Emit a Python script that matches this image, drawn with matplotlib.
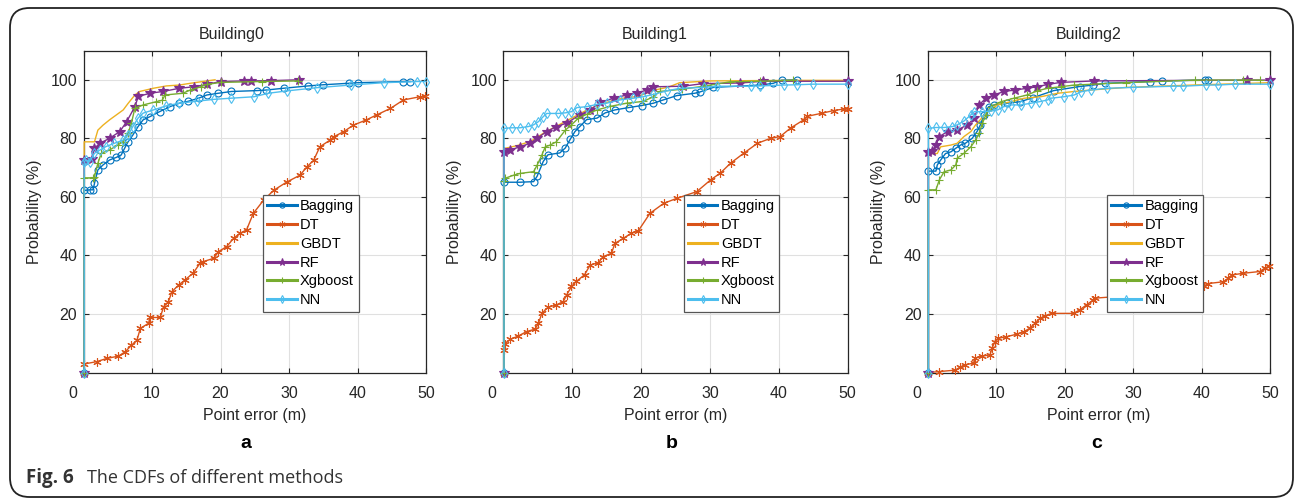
import numpy as np
import matplotlib
matplotlib.use("Agg")
import matplotlib.pyplot as plt
from matplotlib.patches import FancyBboxPatch

plt.rcParams['font.family'] = ['Liberation Sans', 'DejaVu Sans']

# ---- data: (point error m, probability %) ----
titles = ["Building0", "Building1", "Building2"]
letters = ["a", "b", "c"]
methods = ["Bagging", "DT", "GBDT", "RF", "Xgboost", "NN"]

b0_bagging = [(0.1, 0), (0.1, 62.2), (0.9, 62.4), (1.4, 62.4), (1.6, 64.6), (2.1, 69.2), (2.85, 70.9),
              (3.8, 72.6), (4.8, 73.5), (5.5, 74.3), (6, 76.6), (6.5, 78.8), (7.2, 81.1), (7.96, 84),
              (8.7, 86.3), (9.7, 87.4), (11.1, 89.1), (12.6, 90.8), (14, 92), (15.2, 92.6), (16.8, 93.7),
              (18, 94.8), (19.7, 95.4), (21.6, 96), (25.3, 96.3), (26.7, 96.5), (29.2, 97.1), (32.8, 97.9),
              (35, 98.3), (38.7, 98.8), (40.1, 99), (46.7, 99.4), (47.7, 99.4)]
b0_dt = [(0.1, 0), (0.1, 2.9), (1.9, 3.7), (3.4, 4.8), (5.1, 5.6), (6.1, 7.1), (7.0, 9.3), (7.8, 11.0),
         (8.3, 15.1), (9.5, 16.8), (9.7, 18.8), (11.2, 18.8), (11.7, 22.5), (12.4, 24.2), (12.9, 27.6),
         (13.9, 29.9), (14.8, 31.6), (16.0, 33.9), (17.0, 37.3), (17.5, 37.9), (19.0, 39.0), (19.7, 41.3),
         (20.9, 43.0), (21.9, 45.8), (22.8, 47.5), (23.8, 48.7), (24.8, 54.4), (26.3, 58.9), (27.8, 62.3),
         (29.7, 65.1), (31.6, 67.4), (32.6, 70.2), (33.6, 72.5), (34.5, 77.1), (36, 79.4), (36.5, 80.5),
         (38, 82.3), (39.4, 84.5), (41.3, 86.3), (42.8, 88), (44.8, 90.2), (46.7, 93.1), (49.1, 94.2),
         (49.9, 94.4)]
b0_gbdt = [(0.1, 0), (0.1, 78.8), (1.6, 78.8), (2.1, 82.8), (2.85, 84.5), (3.8, 86.3), (4.8, 88),
           (5.8, 89.7), (6.5, 91.9), (7.5, 94.8), (8.2, 96), (10.2, 97.1), (12.1, 97.9), (14, 98.2),
           (15.6, 98.8), (18, 99.6), (19.2, 100)]
b0_rf = [(0.1, 0), (0.1, 72.5), (1.2, 73), (1.6, 76.6), (2.4, 78.3), (3.8, 80), (5.3, 82.3), (6.3, 85.7),
         (7.5, 90.8), (8, 94.3), (9.7, 95.4), (11.6, 96), (14, 97.1), (16.1, 97.6), (18, 98.4), (20, 99.4),
         (23.4, 99.6), (24.4, 99.6), (27.3, 99.7), (31.5, 100)]
b0_xgb = [(0.1, 0), (0.1, 66.5), (1.45, 66.5), (1.6, 66.9), (2.1, 71.5), (2.6, 74.9), (3.8, 76),
          (5.0, 77.7), (5.8, 78.9), (6.5, 81.7), (7, 85.2), (7.5, 90.3), (8.7, 91.4), (10.6, 92.5),
          (11.5, 93), (11.9, 94.8), (14.5, 95.4), (15.6, 96.5), (17.1, 97.6), (18, 98.4), (20, 99.1),
          (26, 99.4), (31.3, 99.6)]
b0_nn = [(0.1, 0), (0.1, 72), (0.4, 72.6), (0.9, 72), (1.6, 74.9), (2.4, 76), (3.3, 77.2), (4.5, 78.3),
         (5.8, 79.4), (6.5, 81.1), (7.2, 84), (7.96, 86.9), (8.7, 88.6), (10.2, 89.7), (12.1, 91.1),
         (14, 92), (16.6, 92.7), (19, 93.3), (21.5, 93.7), (24.9, 94.2), (27, 95.4), (29.7, 96.2),
         (34.1, 97.3), (39, 98.2), (43.8, 99), (48.7, 99.4), (50, 99.4)]

b1_bagging = [(0.1, 0), (0.1, 65), (2.4, 65), (4.4, 65.2), (4.9, 67), (5.8, 72.1), (6.5, 74.4), (8.2, 75),
              (9, 76.7), (9.7, 79.6), (10.4, 82.3), (11.1, 84), (12.1, 86.4), (13.6, 86.9), (14.8, 88.7),
              (16.2, 89.7), (18.2, 90.5), (20.1, 91.2), (21.8, 92), (23.2, 93.1), (25.2, 94.6),
              (27.8, 95.4), (28.5, 95.8), (30.5, 97.4), (37.3, 98.2), (39.2, 98.8), (40.4, 99.9),
              (42.6, 100)]
b1_dt = [(0.1, 0), (0.1, 7.7), (0.25, 9.9), (1, 11.3), (2.2, 12.5), (3.4, 14), (4.6, 14.8), (5.1, 16.8),
         (5.6, 20.2), (6.5, 22.3), (7.7, 23.1), (8.7, 24.2), (9.2, 26.5), (9.9, 29.4), (10.6, 31.1),
         (11.8, 33.4), (12.6, 36.7), (13.8, 37.5), (14.5, 39.6), (15.7, 40.7), (16.2, 44.1),
         (17.4, 45.8), (18.6, 47.6), (19.6, 48.4), (21.3, 54.4), (23.3, 57.8), (25.2, 59.5),
         (28.1, 61.8), (30.1, 65.8), (31.5, 68.1), (33, 71.5), (34.9, 74.9), (36.9, 78.3), (38.8, 80),
         (40.2, 80.6), (41.7, 83.5), (43.6, 86.3), (44.1, 87.5), (46.3, 88.6), (48, 89.5), (49.4, 90),
         (50, 90)]
b1_gbdt = [(0.1, 0), (0.1, 76.5), (2, 77.5), (4, 79), (6, 82), (8, 84.5), (10, 87), (12, 89.5), (14, 91.5),
           (16, 93), (18, 94), (19.4, 94.2), (22, 96.5), (24, 97.5), (25.6, 99), (29.9, 99.6), (42, 99.8),
           (50, 99.8)]
b1_rf = [(0.1, 0), (0.1, 75.2), (1, 76), (2.4, 77.1), (3.9, 78.3), (4.9, 80), (6.3, 82.3), (7.7, 84),
         (9.2, 85.2), (11.1, 88), (12.6, 89.7), (14.1, 92.3), (16, 93.7), (17.9, 94.8), (19.4, 95.4),
         (20.8, 96.5), (21.8, 97.6), (26.1, 97.8), (29, 98.7), (34.4, 98.9), (37.7, 99.5), (50, 99.5)]
b1_xgb = [(0.1, 0), (0.1, 65.5), (0.2, 66.3), (1.5, 67.4), (2.4, 68), (4.4, 68.6), (4.9, 70.8),
          (5.6, 74.3), (6.1, 77.1), (6.8, 77.7), (7.7, 78.8), (9, 82.8), (9.9, 84.6), (10.9, 86.9),
          (12.1, 88.2), (13.6, 89.7), (15.5, 90.9), (17.9, 92), (20.3, 92.6), (21.8, 94.2), (22.7, 96),
          (26, 96.8), (29.1, 97.8), (32.9, 99.3), (37.3, 99.5), (42.1, 99.8)]
b1_nn = [(0.1, 0), (0.1, 83.4), (1.2, 83.6), (2.4, 83.6), (3.6, 84), (4.4, 84.6), (5.1, 85.7), (5.8, 87.4),
         (6.3, 88.5), (8, 88.5), (9, 88.7), (9.9, 89.1), (10.7, 90.5), (12.1, 90.8), (13.6, 91.6),
         (15, 92), (16.9, 93.1), (18.9, 93.7), (20.3, 94.2), (21.8, 95), (23.7, 96.2), (25.7, 97.1),
         (29.1, 97.4), (31, 97.8), (35.9, 97.8), (37.3, 97.9), (40.7, 98.2), (42.6, 98.3), (45, 98.5),
         (50, 98.5)]

b2_bagging = [(0.1, 0), (0.1, 68.8), (1.2, 68.8), (1.4, 70.9), (1.9, 72.6), (2.6, 74.8), (3.4, 75.4),
              (4.1, 76.6), (4.8, 77.7), (5.5, 78.3), (6.5, 80), (7.2, 82.3), (7.7, 84.6), (8.2, 88),
              (8.9, 90.8), (9.7, 91.4), (11.6, 92), (13.5, 92.5), (15.4, 93.9), (18.4, 96.3),
              (22.2, 97.7), (24.2, 98.2), (25.9, 98.8), (32.5, 99.4), (34.2, 99.6), (40.5, 99.9),
              (41, 99.9)]
b2_dt = [(0.1, 0), (1.6, 0.3), (4, 0.8), (4.7, 1.8), (5.4, 2.6), (6.7, 3.2), (6.9, 4.9), (7.9, 5.6),
         (9.1, 6), (9.4, 8.3), (9.8, 10.5), (10.3, 11.7), (11.5, 12.2), (13, 13.1), (14, 13.9),
         (14.9, 15.1), (15.7, 16.8), (16.4, 18.5), (17.1, 19.3), (18.1, 20.2), (21.3, 20.2), (22.2, 21.4),
         (23.2, 23.1), (24.2, 24.8), (24.4, 25.4), (28, 26), (34, 27.5), (39, 29), (40.3, 29.5),
         (41, 30.4), (43.2, 31), (43.9, 32.2), (44.4, 33.3), (46.1, 33.9), (48.5, 34.5), (49.2, 35.6),
         (49.9, 36.4)]
b2_gbdt = [(0.1, 0), (0.1, 74.8), (1.4, 74.8), (1.9, 77.1), (3.4, 77.7), (4.3, 78.3), (5.3, 80.6),
           (6.3, 82.3), (7, 84.6), (7.7, 86.4), (8.7, 89.1), (10.2, 91.4), (12.1, 92.5), (14.1, 93.7),
           (16.5, 94.2), (19, 95.4), (21.4, 96), (23.8, 96.5), (29.1, 97.4), (38.8, 98.2), (48.5, 98.9),
           (50, 99)]
b2_rf = [(0.1, 0), (0.1, 75.4), (0.7, 75.6), (1.2, 77.7), (1.7, 80.6), (2.9, 82.3), (4.3, 82.8),
         (5.8, 84.6), (6.8, 86.9), (7.5, 91.4), (8.5, 93.7), (9.7, 94.8), (11.1, 96), (12.8, 96.5),
         (14.5, 97.1), (16, 97.6), (17.5, 98.4), (19.4, 99.1), (24.3, 99.6), (46.6, 99.9), (50, 99.9)]
b2_xgb = [(0.1, 0), (0.1, 62.4), (1.2, 62.4), (1.7, 65.8), (2.4, 68.6), (3.4, 69.2), (4.1, 70.9),
          (4.3, 73.2), (5.3, 74.9), (6.3, 77.1), (7, 79.4), (7.5, 81.7), (8, 85.2), (8.5, 88), (9.2, 90.8),
          (10.7, 92.5), (12.6, 93.7), (14.5, 94.8), (16, 96.2), (17.5, 97.1), (19.4, 97.6), (21.4, 98.2),
          (29, 99), (39, 99.9), (46.1, 99.9), (48.5, 99.9)]
b2_nn = [(0.1, 0), (0.1, 83.4), (1.2, 83.7), (2.4, 83.7), (3.6, 84), (4.3, 84.6), (5.3, 85.9), (6.3, 88),
         (6.8, 89.1), (8, 89.1), (9.2, 89.3), (10.2, 89.7), (11.1, 90.8), (12.1, 91.4), (13.6, 91.4),
         (15.1, 92), (16.3, 92.5), (17.5, 93.1), (18, 93.7), (19.9, 94.2), (21.4, 94.8), (22.4, 95.9),
         (23.8, 96.5), (26.2, 97.1), (30, 97.4), (35.9, 97.8), (37.3, 97.8), (40.7, 98.2), (42.4, 98.2),
         (44.9, 98.5), (50, 98.5)]

panels = [
    [b0_bagging, b0_dt, b0_gbdt, b0_rf, b0_xgb, b0_nn],
    [b1_bagging, b1_dt, b1_gbdt, b1_rf, b1_xgb, b1_nn],
    [b2_bagging, b2_dt, b2_gbdt, b2_rf, b2_xgb, b2_nn],
]

# MATLAB default colours; MATLAB-like markers (asterisk, pentagram ...)
colors = ['#0072BD', '#D95319', '#EDB120', '#7E2F8E', '#77AC30', '#4DBEEE']
markers = ['o', (6, 2, 0), 'None', '*', '+', 'd']
msizes = [5, 6, 0, 7.5, 6, 5]
mfaces = ['none', None, None, None, None, 'none']

fig = plt.figure(figsize=(12.95, 5.0), dpi=100)

lefts = [83.5, 503.3, 927.7]
rights = [426, 847.7, 1270]
title_x = [0.434, 0.44, 0.47]
letter_x = [245.7, 672, 1097]
W, H = 1295.0, 500.0

for k in range(3):
    ax = fig.add_axes([lefts[k] / W, 1 - 372.5 / H, (rights[k] - lefts[k]) / W, 322 / H])
    for m in range(6):
        pts = np.array(panels[k][m])
        kw = dict(color=colors[m], lw=1.0, marker=markers[m], markersize=msizes[m],
                  markeredgewidth=0.8, label=methods[m], zorder=3, clip_on=False)
        if mfaces[m] is not None:
            kw['markerfacecolor'] = mfaces[m]
        ax.plot(pts[:, 0], pts[:, 1], **kw)

    ax.set_xlim(0, 50)
    ax.set_ylim(0, 110)
    ax.set_xticks([0, 10, 20, 30, 40, 50])
    ax.set_xticklabels(['', '10', '20', '30', '40', '50'])
    ax.set_yticks([20, 40, 60, 80, 100])
    ax.grid(True, color='#e0e0e0', lw=0.8)
    ax.set_axisbelow(True)
    ax.tick_params(direction='in', top=True, right=True, length=3.5, width=0.8,
                   color='#262626', labelsize=11.5, labelcolor='#262626')
    ax.tick_params(axis='x', pad=10)
    ax.tick_params(axis='y', pad=4.5)
    for s in ax.spines.values():
        s.set_linewidth(0.9)
        s.set_color('#262626')
    ax.annotate('0', xy=(0, 0), xycoords=ax.get_xaxis_transform(), xytext=(-8, -10),
                textcoords='offset points', ha='center', va='top', fontsize=11.5, color='#262626')

    ax.set_title(titles[k], fontsize=11.5, pad=8, color='#262626', x=title_x[k])
    ax.set_xlabel('Point error (m)', fontsize=11.5, labelpad=5, color='#262626')
    ax.set_ylabel('Probability (%)', fontsize=11.5, labelpad=6, color='#262626')

    leg = ax.legend(loc='lower left', bbox_to_anchor=(0.524, 0.189), fancybox=False,
                    edgecolor='#555555', framealpha=1, borderpad=0.3, labelspacing=0.33,
                    handlelength=2.0, handletextpad=0.25, borderaxespad=0, fontsize=10.5,
                    markerscale=0.75)
    leg.get_frame().set_linewidth(0.9)
    leg.set_zorder(5)
    for ln in leg.get_lines():
        ln.set_linewidth(2.2)

    fig.text(letter_x[k] / W, 1 - 443 / H, letters[k], ha='center', va='center',
             fontsize=14, fontweight='bold')

# caption
fig.text(26 / W, 1 - 478 / H, 'Fig. 6', ha='left', va='center', fontsize=13.5,
         fontweight='bold', family='Open Sans', color='#333333')
fig.text(87 / W, 1 - 478 / H, 'The CDFs of different methods', ha='left', va='center',
         fontsize=13, family='Open Sans', color='#333333')

# rounded frame around the figure
frame = FancyBboxPatch((10 / W, 3 / H), 1283 / W, 489 / H,
                       boxstyle='round,pad=0,rounding_size=0.015', mutation_aspect=W / H,
                       transform=fig.transFigure, fill=False, edgecolor='#222222', lw=1.3)
fig.patches.append(frame)

fig.savefig('out.png', dpi=100)
